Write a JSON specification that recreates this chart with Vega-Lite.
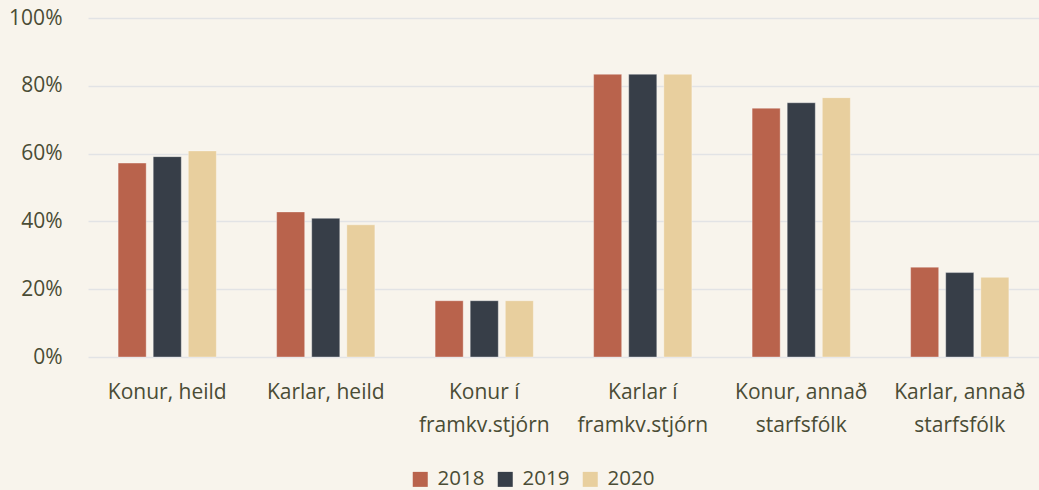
{
  "$schema": "https://vega.github.io/schema/vega-lite/v6.json",
  "width": 951,
  "height": 339,
  "autosize": {"type": "none"},
  "padding": {"left": 88, "top": 18, "right": 0, "bottom": 133},
  "background": "#F8F4EC",
  "config": {
    "view": {"stroke": null},
    "font": "Open Sans",
    "axis": {"labelFont": "Open Sans", "labelColor": "#4A4C35", "labelFontSize": 21},
    "legend": {"labelFont": "Open Sans", "labelColor": "#4A4C35", "labelFontSize": 20.5}
  },
  "data": {
    "values": [
      {"cat": "Konur, heild", "year": "2018", "value": 57.2},
      {"cat": "Konur, heild", "year": "2019", "value": 59.1},
      {"cat": "Konur, heild", "year": "2020", "value": 60.8},
      {"cat": "Karlar, heild", "year": "2018", "value": 42.8},
      {"cat": "Karlar, heild", "year": "2019", "value": 40.9},
      {"cat": "Karlar, heild", "year": "2020", "value": 39.0},
      {"cat": "Konur í|framkv.stjórn", "year": "2018", "value": 16.6},
      {"cat": "Konur í|framkv.stjórn", "year": "2019", "value": 16.6},
      {"cat": "Konur í|framkv.stjórn", "year": "2020", "value": 16.6},
      {"cat": "Karlar í|framkv.stjórn", "year": "2018", "value": 83.4},
      {"cat": "Karlar í|framkv.stjórn", "year": "2019", "value": 83.4},
      {"cat": "Karlar í|framkv.stjórn", "year": "2020", "value": 83.4},
      {"cat": "Konur, annað|starfsfólk", "year": "2018", "value": 73.4},
      {"cat": "Konur, annað|starfsfólk", "year": "2019", "value": 75.0},
      {"cat": "Konur, annað|starfsfólk", "year": "2020", "value": 76.5},
      {"cat": "Karlar, annað|starfsfólk", "year": "2018", "value": 26.5},
      {"cat": "Karlar, annað|starfsfólk", "year": "2019", "value": 24.9},
      {"cat": "Karlar, annað|starfsfólk", "year": "2020", "value": 23.5}
    ]
  },
  "mark": {"type": "bar", "stroke": "#ffffff", "strokeOpacity": 0.35, "strokeWidth": 1},
  "encoding": {
    "x": {
      "field": "cat",
      "type": "nominal",
      "sort": null,
      "scale": {"paddingInner": 0.38, "paddingOuter": 0.19},
      "axis": {
        "title": null,
        "labelAngle": 0,
        "domain": false,
        "ticks": false,
        "labelPadding": 24,
        "labelBaseline": "top",
        "labelLineHeight": 33,
        "labelExpr": "split(datum.label, '|')"
      }
    },
    "xOffset": {
      "field": "year",
      "type": "nominal",
      "scale": {"paddingInner": 0.2, "paddingOuter": 0}
    },
    "y": {
      "field": "value",
      "type": "quantitative",
      "scale": {"domain": [0, 100], "nice": false},
      "axis": {
        "title": null,
        "values": [0, 20, 40, 60, 80, 100],
        "labelExpr": "datum.value + '%'",
        "domain": false,
        "ticks": false,
        "labelPadding": 26,
        "gridColor": "#E2E3E5",
        "gridWidth": 1.5
      }
    },
    "color": {
      "field": "year",
      "type": "nominal",
      "scale": {"domain": ["2018", "2019", "2020"], "range": ["#B9634C", "#373E48", "#E8CF9E"]},
      "legend": {
        "title": null,
        "orient": "none",
        "direction": "horizontal",
        "legendX": 322,
        "legendY": 451,
        "symbolType": "square",
        "symbolSize": 225,
        "symbolStrokeWidth": 0,
        "symbolOpacity": 1,
        "labelOffset": 7,
        "columnPadding": 10
      }
    }
  }
}
